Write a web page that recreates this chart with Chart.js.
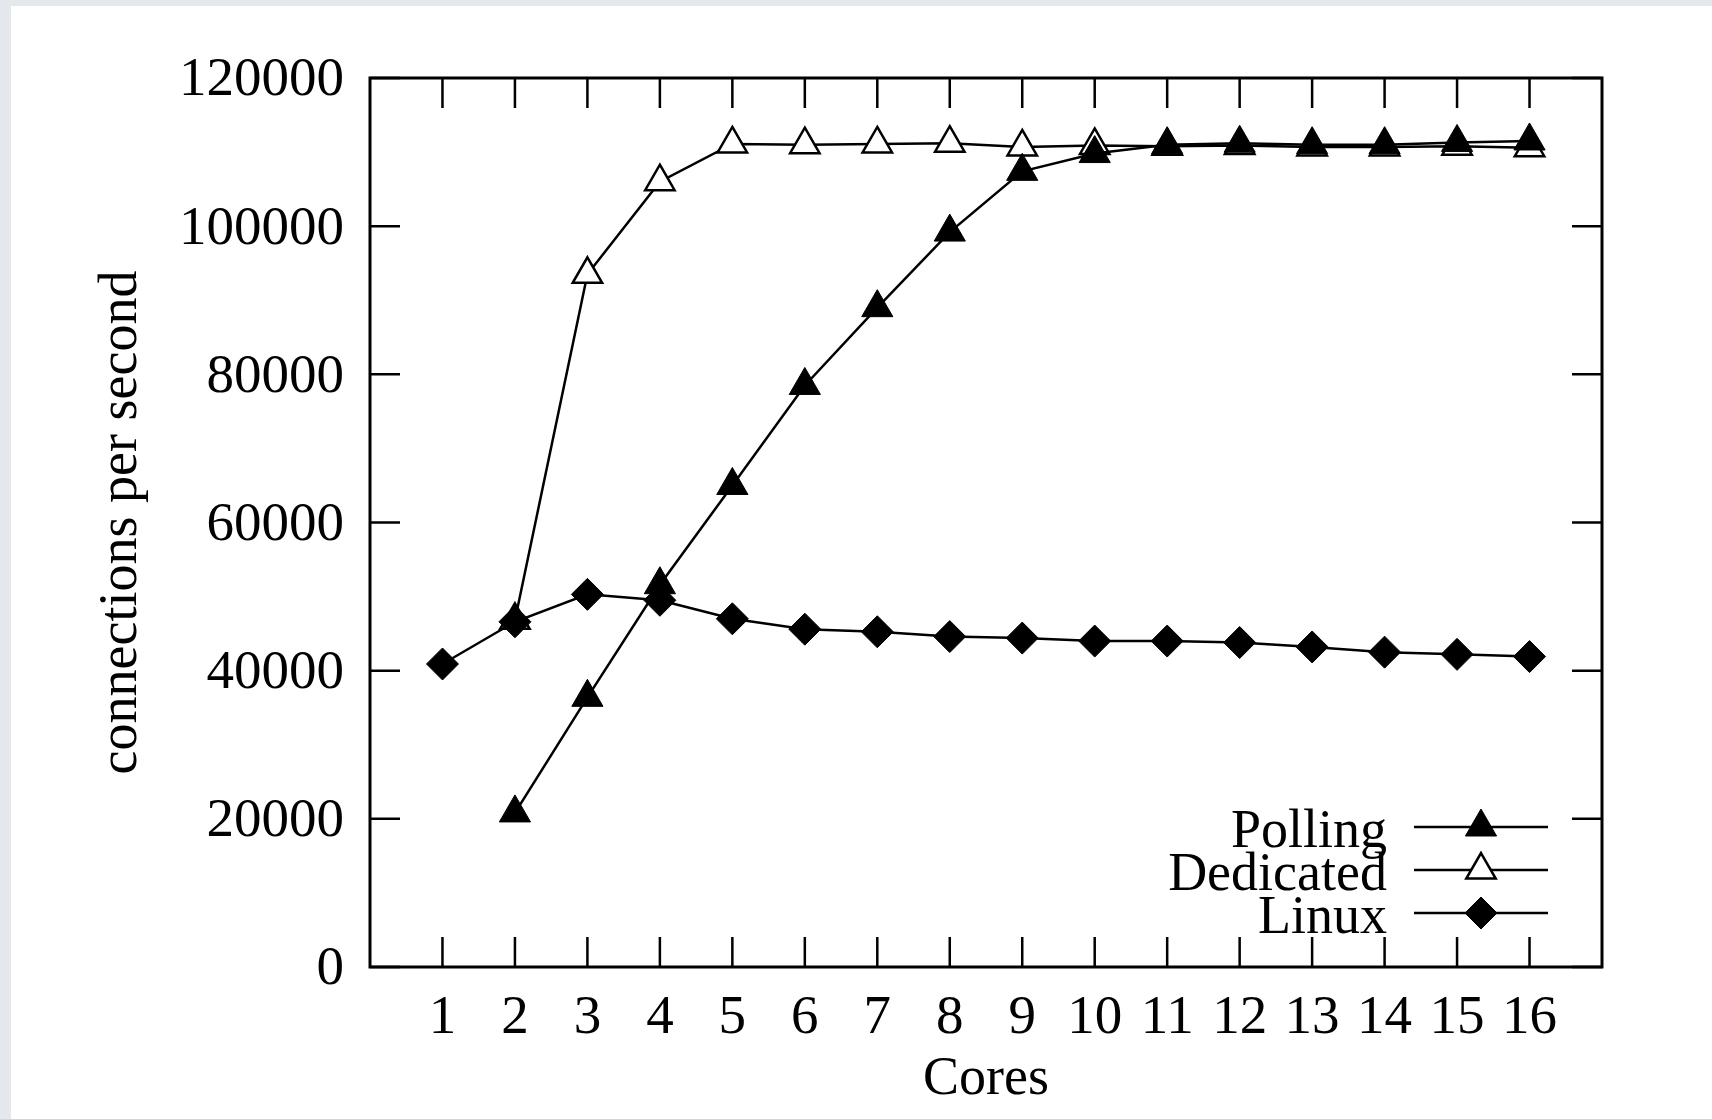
<!DOCTYPE html>
<html>
<head>
<meta charset="utf-8">
<script src="https://cdn.jsdelivr.net/npm/chart.js@4.4.1/dist/chart.umd.min.js"></script>
<style>
  html, body { margin: 0; padding: 0; background: #e4e7eb; }
  #wrap { position: absolute; left: 11px; top: 6px; width: 1701px; height: 1113px; background: #fff; }
</style>
</head>
<body>
<div id="wrap"><canvas id="chart" width="1701" height="1113"></canvas></div>
<script>
// values
const cores = [1, 2, 3, 4, 5, 6, 7, 8, 9, 10, 11, 12, 13, 14, 15, 16];
const polling = [null, 20800, 36400, 51600, 65000, 78500, 89000, 99200, 107400, 109800, 111000, 111200, 111000, 111000, 111300, 111500];
const dedicated = [null, 46800, 93500, 106000, 111100, 111000, 111100, 111200, 110700, 110900, 110800, 110900, 110700, 110700, 110800, 110600];
const linux = [40900, 46600, 50300, 49500, 47000, 45600, 45250, 44600, 44400, 44000, 44000, 43800, 43200, 42500, 42200, 41900];
const yTicks = [0, 20000, 40000, 60000, 80000, 100000, 120000];

const FONT = 'Liberation Serif';

function pts(arr) {
    return cores.map((c, i) => ({ x: c, y: arr[i] }));
}

// gnuplot style box + inward ticks on all four sides
const frame = {
    id: 'frame',
    afterDatasetsDraw(chart) {
        const { ctx, chartArea: a, scales } = chart;
        const len = 30;
        ctx.save();
        ctx.strokeStyle = '#000';
        ctx.lineWidth = 2.5;
        ctx.beginPath();
        scales.x.ticks.forEach(t => {
            const px = scales.x.getPixelForValue(t.value);
            ctx.moveTo(px, a.bottom); ctx.lineTo(px, a.bottom - len);
            ctx.moveTo(px, a.top); ctx.lineTo(px, a.top + len);
        });
        scales.y.ticks.forEach(t => {
            const py = scales.y.getPixelForValue(t.value);
            ctx.moveTo(a.left, py); ctx.lineTo(a.left + len, py);
            ctx.moveTo(a.right, py); ctx.lineTo(a.right - len, py);
        });
        ctx.stroke();
        ctx.lineWidth = 3;
        ctx.strokeRect(a.left, a.top, a.right - a.left, a.bottom - a.top);
        ctx.restore();
    }
};

// key in the lower right corner of the plot, text right aligned
const key = {
    id: 'key',
    afterDraw(chart) {
        const { ctx, chartArea: a } = chart;
        ctx.save();
        ctx.font = '54px "' + FONT + '"';
        ctx.fillStyle = '#000';
        ctx.textAlign = 'right';
        ctx.textBaseline = 'alphabetic';
        chart.data.datasets.forEach((ds, i) => {
            const ly = a.bottom - 140 + i * 43;
            ctx.fillText(ds.label, a.right - 215, ly + 20);
            ctx.strokeStyle = '#000';
            ctx.lineWidth = 2.5;
            ctx.beginPath();
            ctx.moveTo(a.right - 188, ly);
            ctx.lineTo(a.right - 54, ly);
            ctx.stroke();
            ctx.fillStyle = ds.pointBackgroundColor;
            ctx.strokeStyle = '#000';
            ctx.lineWidth = ds.pointBorderWidth;
            Chart.helpers.drawPoint(ctx, {
                pointStyle: ds.pointStyle, radius: ds.pointRadius, rotation: 0, borderWidth: ds.pointBorderWidth
            }, a.right - 121, ly);
            ctx.fillStyle = '#000';
        });
        ctx.restore();
    }
};

const ctx = document.getElementById('chart').getContext('2d');

const chart = new Chart(ctx, {
    type: 'line',
    data: {
        datasets: [
            {
                label: 'Polling',
                data: pts(polling),
                borderColor: '#000', borderWidth: 2.5,
                pointStyle: 'triangle', pointRadius: 18,
                pointBackgroundColor: '#000', pointBorderColor: '#000', pointBorderWidth: 1,
                order: 1
            },
            {
                label: 'Dedicated',
                data: pts(dedicated),
                borderColor: '#000', borderWidth: 2.5,
                pointStyle: 'triangle', pointRadius: 17,
                pointBackgroundColor: '#fff', pointBorderColor: '#000', pointBorderWidth: 2.5,
                order: 3
            },
            {
                label: 'Linux',
                data: pts(linux),
                borderColor: '#000', borderWidth: 2.5,
                pointStyle: 'rectRot', pointRadius: 16,
                pointBackgroundColor: '#000', pointBorderColor: '#000', pointBorderWidth: 1,
                order: 2
            }
        ]
    },
    options: {
        responsive: false,
        animation: false,
        devicePixelRatio: 1,
        layout: { padding: { left: 0, top: 72, right: 110, bottom: 0 } },
        elements: { line: { tension: 0 } },
        plugins: {
            legend: { display: false },
            tooltip: { enabled: false }
        },
        scales: {
            x: {
                type: 'linear',
                min: 0, max: 17,
                afterBuildTicks: s => { s.ticks = cores.map(v => ({ value: v })); },
                afterFit: s => { s.height = 152; },
                grid: { display: false, drawTicks: false },
                border: { display: false },
                ticks: {
                    padding: 19,
                    color: '#000',
                    font: { family: FONT, size: 55 },
                    maxRotation: 0, autoSkip: false,
                    callback: v => String(v)
                },
                title: {
                    display: true, text: 'Cores', color: '#000',
                    font: { family: FONT, size: 54 },
                    padding: { top: 0, bottom: 7 }
                }
            },
            y: {
                min: 0, max: 120000,
                afterBuildTicks: s => { s.ticks = yTicks.map(v => ({ value: v })); },
                afterFit: s => { s.width = 359; },
                grid: { display: false, drawTicks: false },
                border: { display: false },
                ticks: {
                    padding: 26,
                    labelOffset: 3,
                    color: '#000',
                    font: { family: FONT, size: 55 },
                    callback: v => String(v)
                },
                title: {
                    display: true, text: 'connections per second', color: '#000',
                    font: { family: FONT, size: 54 },
                    padding: { top: 78, bottom: 0 }
                }
            }
        }
    },
    plugins: [frame, key]
});
</script>
</body>
</html>
